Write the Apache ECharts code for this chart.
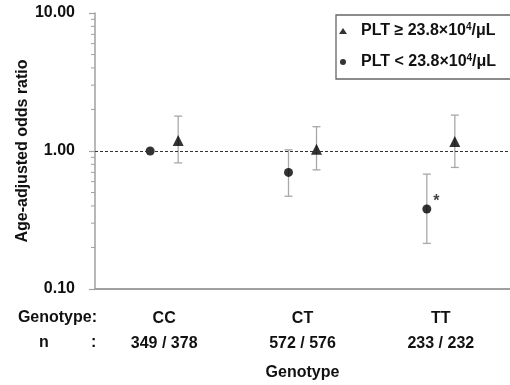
<!DOCTYPE html>
<html><head><meta charset="utf-8">
<script src="https://cdn.jsdelivr.net/npm/echarts@6/dist/echarts.min.js"></script>
<style>html,body{margin:0;padding:0;background:#fff}#c{width:510px;height:385px}</style>
</head><body><div id="c"></div>
<script>
const categories = ['CC', 'CT', 'TT'];
const nLabels = ['349 / 378', '572 / 576', '233 / 232'];
const highName = 'PLT ≥ 23.8×10⁴/μL';
const lowName = 'PLT < 23.8×10⁴/μL';
const highOR = [1.19, 1.03, 1.17];
const highLower = [0.82, 0.73, 0.76];
const highUpper = [1.79, 1.50, 1.82];
const lowOR = [1.00, 0.70, 0.38];
const lowLower = [null, 0.47, 0.214];
const lowUpper = [null, 1.02, 0.68];
const lowMarks = ['', '', '*'];
const minorTickValues = [0.2, 0.3, 0.4, 0.5, 0.6, 0.7, 0.8, 0.9, 2, 3, 4, 5, 6, 7, 8, 9];

const FONT = 'Liberation Sans, Arial, sans-serif';
const OFF = 14;

function errRows(lo, hi) {
  const r = [];
  categories.forEach((c, i) => { if (lo[i] != null) r.push([i, lo[i], hi[i]]); });
  return r;
}
function errSeries(lo, hi, off) {
  return {
    type: 'custom', silent: true, z: 1,
    data: errRows(lo, hi),
    encode: { x: 0, y: [1, 2] },
    renderItem: function (params, api) {
      const a = api.coord([api.value(0), api.value(1)]);
      const b = api.coord([api.value(0), api.value(2)]);
      const x = a[0] + off, w = 4;
      const st = { stroke: '#a8a8a8', lineWidth: 1.3 };
      return { type: 'group', children: [
        { type: 'line', shape: { x1: x, y1: a[1], x2: x, y2: b[1] }, style: st },
        { type: 'line', shape: { x1: x - w, y1: a[1], x2: x + w, y2: a[1] }, style: st },
        { type: 'line', shape: { x1: x - w, y1: b[1], x2: x + w, y2: b[1] }, style: st }
      ]};
    }
  };
}

const chart = echarts.init(document.getElementById('c'), null, { renderer: 'canvas' });
const supRich = {
  a: { fontSize: 16, fontWeight: 'bold', fontFamily: FONT, color: '#111', lineHeight: 18 },
  s: { fontSize: 10, fontWeight: 'bold', fontFamily: FONT, color: '#111', lineHeight: 11, verticalAlign: 'top' }
};
chart.setOption({
  animation: false,
  textStyle: { fontFamily: FONT },
  grid: { left: 95, right: 0, top: 13, bottom: 96, containLabel: false, outerBoundsMode: 'none' },
  legend: {
    orient: 'vertical', left: 336, top: 15,
    padding: [7, 40, 9, 3], itemGap: 14,
    itemWidth: 8, itemHeight: 6,
    borderColor: '#666', borderWidth: 1.3,
    data: [highName, lowName],
    formatter: function (name) {
      const parts = name.split('⁴');
      return '{a|' + parts[0] + '}{s|4}{a|' + parts[1] + '}';
    },
    textStyle: { rich: supRich, padding: [0, 0, 0, 9] }
  },
  xAxis: {
    type: 'category', data: categories,
    axisLine: { lineStyle: { color: '#a0a0a0', width: 2 } },
    axisTick: { show: false },
    axisLabel: {
      margin: 17, interval: 0,
      formatter: function (v, i) { return '{c|' + v + '}\n{c|' + nLabels[i] + '}'; },
      rich: { c: { fontSize: 16, fontWeight: 'bold', fontFamily: FONT, color: '#111', lineHeight: 25 } }
    },
    name: 'Genotype', nameLocation: 'middle', nameGap: 76, nameMoveOverlap: false,
    nameTextStyle: { fontSize: 16, fontWeight: 'bold', color: '#111' }
  },
  yAxis: {
    type: 'log', logBase: 10, min: 0.1, max: 10,
    axisLine: { show: true, lineStyle: { color: '#a0a0a0', width: 1.5 } },
    axisTick: { show: true, length: 6, lineStyle: { color: '#a0a0a0', width: 1.2 } },
    minorTick: { show: false },
    splitLine: { show: false },
    axisLabel: {
      margin: 20, fontSize: 16, fontWeight: 'bold', color: '#111',
      formatter: function (v) { return Number(v).toFixed(2); }
    },
    name: 'Age-adjusted odds ratio', nameLocation: 'middle', nameGap: 64, nameMoveOverlap: false,
    nameTextStyle: { fontSize: 16, fontWeight: 'bold', color: '#111' }
  },
  graphic: [
    { type: 'text', right: 413, top: 310, style: { text: 'Genotype:', font: 'bold 16px ' + FONT, fill: '#111' } },
    { type: 'text', left: 39, top: 335, style: { text: 'n', font: 'bold 16px ' + FONT, fill: '#111' } },
    { type: 'text', left: 91, top: 335, style: { text: ':', font: 'bold 16px ' + FONT, fill: '#111' } }
  ],
  series: [
    {
      type: 'custom', silent: true, z: 1,
      data: minorTickValues.map(v => [0, v]),
      encode: { x: 0, y: 1 },
      renderItem: function (params, api) {
        const y = api.coord([0, api.value(1)])[1];
        const x = params.coordSys.x;
        return { type: 'line', shape: { x1: x - 4, y1: y, x2: x, y2: y },
          style: { stroke: '#a0a0a0', lineWidth: 1 } };
      }
    },
    errSeries(highLower, highUpper, OFF),
    errSeries(lowLower, lowUpper, -OFF),
    {
      name: highName, type: 'scatter', z: 3,
      symbol: 'triangle', symbolSize: 11, symbolOffset: [OFF, 0],
      itemStyle: { color: '#000' },
      data: highOR,
      markLine: {
        silent: true, symbol: 'none', label: { show: false },
        lineStyle: { type: [3, 2], color: '#333', width: 1 },
        data: [{ yAxis: 1 }]
      }
    },
    {
      name: lowName, type: 'scatter', z: 3,
      symbol: 'circle', symbolSize: 9, symbolOffset: [-OFF, 0],
      itemStyle: { color: '#000' },
      data: lowOR.map((v, i) => ({
        value: v,
        label: { show: lowMarks[i] !== '', formatter: lowMarks[i], position: 'right', offset: [-3, -7],
          fontSize: 16, fontWeight: 'bold', color: '#111' }
      }))
    }
  ]
});
</script></body></html>
